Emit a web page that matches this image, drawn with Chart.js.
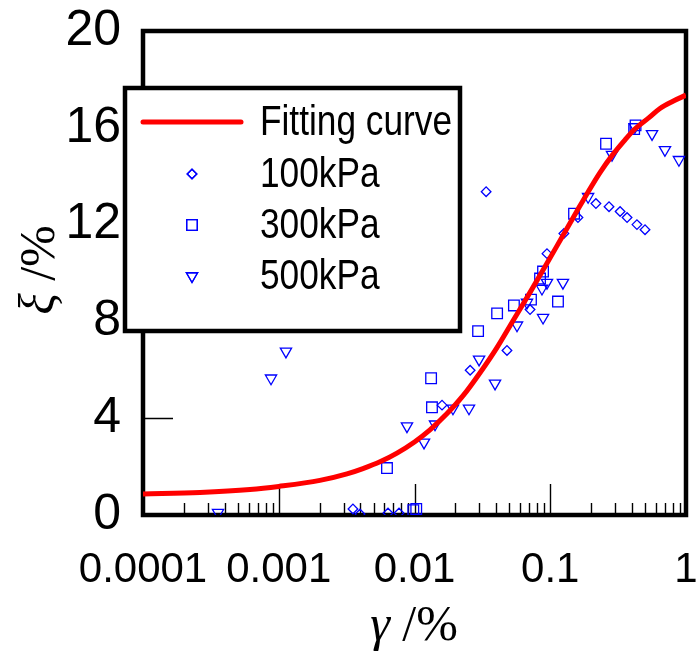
<!DOCTYPE html>
<html lang="en">
<head>
  <meta charset="UTF-8">
  <title>Damping ratio vs shear strain</title>
  <script src="https://cdn.jsdelivr.net/npm/chart.js"></script>
  <style>
    html, body { margin: 0; padding: 0; background: #fff; }
    .chart-box { width: 696px; height: 653px; position: relative; }
  </style>
</head>
<body>
  <div class="chart-box">
    <canvas id="dampingChart"></canvas>
  </div>

  <script>
    // fitting curve
    const fitStrain  = [0.0001, 0.000263, 0.000614, 0.001, 0.00201, 0.00318, 0.00417, 0.00557, 0.00743, 0.01, 0.013, 0.0173, 0.0228, 0.0304, 0.0406, 0.0532, 0.071, 0.0946, 0.124, 0.157, 0.19, 0.2325, 0.285, 0.349, 0.42, 0.534, 0.643, 0.801, 1];
    const fitDamping = [0.87, 0.93, 1.05, 1.18, 1.43, 1.7, 1.92, 2.2, 2.56, 3.02, 3.52, 4.18, 4.93, 5.88, 6.93, 8.03, 9.2, 10.4, 11.55, 12.55, 13.35, 14.15, 14.85, 15.45, 15.95, 16.42, 16.8, 17.1, 17.35];

    // test points
    const strain100  = [0.00352, 0.00397, 0.00638, 0.00769, 0.01595, 0.0257, 0.0337, 0.048, 0.071, 0.0946, 0.126, 0.16, 0.217, 0.271, 0.327, 0.368, 0.435, 0.499];
    const damping100 = [0.25, 0.04, 0.08, 0.08, 4.54, 5.98, 13.36, 6.8, 8.49, 10.8, 11.63, 12.29, 12.87, 12.74, 12.54, 12.29, 12.0, 11.79];

    const strain300  = [0.00627, 0.0098, 0.0103, 0.01325, 0.01345, 0.0294, 0.0406, 0.054, 0.0721, 0.0841, 0.0885, 0.114, 0.1497, 0.2576, 0.415, 0.425];
    const damping300 = [1.94, 0.2, 0.25, 5.65, 4.45, 7.6, 8.33, 8.66, 8.9, 9.77, 10.06, 8.82, 12.45, 15.34, 15.95, 16.1];

    const strain500  = [0.000357, 0.000877, 0.00113, 0.0088, 0.01175, 0.01416, 0.0192, 0.0252, 0.0299, 0.0392, 0.0569, 0.0674, 0.0869, 0.0885, 0.0946, 0.124, 0.19, 0.285, 0.42, 0.562, 0.7, 0.887];
    const damping500 = [0.1, 5.65, 6.76, 3.67, 3.0, 3.75, 4.41, 4.41, 6.43, 5.44, 7.84, 8.78, 9.36, 8.16, 9.6, 9.6, 13.15, 14.89, 16.04, 15.75, 15.09, 14.68];

    const seriesLabels = ["Fitting curve", "100kPa", "300kPa", "500kPa"];
    const xTickValues = [0.0001, 0.001, 0.01, 0.1, 1];
    const xTickLabels = ["0.0001", "0.001", "0.01", "0.1", "1"];
    const yTickValues = [0, 4, 8, 12, 16, 20];

    const toPoints = (xs, ys) => xs.map((x, i) => ({ x: x, y: ys[i] }));

    // is a narrow sans installed?
    const probe = document.createElement("canvas").getContext("2d");
    probe.font = "40px 'Liberation Sans Narrow', monospace";
    const wNarrow = probe.measureText("Fitting curve 0.0001").width;
    probe.font = "40px monospace";
    const wMono = probe.measureText("Fitting curve 0.0001").width;
    const hasNarrow = Math.abs(wNarrow - wMono) > 1;
    const narrowFamily = "'Liberation Sans Narrow', 'Arial Narrow', 'Liberation Sans', Arial, sans-serif";

    // frame + inward ticks, under the markers
    const framePlugin = {
      id: "frame",
      beforeDatasetsDraw(chart) {
        const { ctx, chartArea: a, scales } = chart;
        const xs = scales.x, ys = scales.y;
        ctx.save();
        ctx.strokeStyle = "#000";
        // minor ticks on the bottom axis
        ctx.lineWidth = 1.4;
        ctx.beginPath();
        for (let d = 0; d < xTickValues.length - 1; d++) {
          for (let k = 2; k <= 9; k++) {
            const px = Math.round(xs.getPixelForValue(xTickValues[d] * k)) + 0.5;
            ctx.moveTo(px, a.bottom);
            ctx.lineTo(px, a.bottom - 12);
          }
        }
        // major ticks
        for (let d = 1; d < xTickValues.length - 1; d++) {
          const px = Math.round(xs.getPixelForValue(xTickValues[d])) + 0.5;
          ctx.moveTo(px, a.bottom);
          ctx.lineTo(px, a.bottom - 31);
        }
        for (let i = 1; i < yTickValues.length - 1; i++) {
          const py = Math.round(ys.getPixelForValue(yTickValues[i])) + 0.5;
          ctx.moveTo(a.left, py);
          ctx.lineTo(a.left + 30, py);
        }
        ctx.stroke();
        ctx.lineWidth = 4.5;
        ctx.strokeRect(a.left, a.top, a.right - a.left, a.bottom - a.top);
        ctx.restore();
      }
    };

    function drawMarker(ctx, style, x, y, r, rot) {
      if (Chart.helpers && Chart.helpers.drawPoint) {
        Chart.helpers.drawPoint(ctx, { pointStyle: style, radius: r, rotation: rot, borderWidth: ctx.lineWidth }, x, y);
        ctx.stroke();
      }
    }

    // legend box and axis titles, on top
    const overlayPlugin = {
      id: "overlay",
      afterDraw(chart) {
        const { ctx } = chart;
        const box = { left: 125, top: 88, right: 460, bottom: 331 };
        ctx.save();
        ctx.fillStyle = "#fff";
        ctx.fillRect(box.left, box.top, box.right - box.left, box.bottom - box.top);
        ctx.strokeStyle = "#000";
        ctx.lineWidth = 4.5;
        ctx.strokeRect(box.left, box.top, box.right - box.left, box.bottom - box.top);

        const rows = [122, 174, 225, 276];
        chart.data.datasets.forEach((ds, i) => {
          const y = rows[i];
          if (ds.showLine) {
            ctx.strokeStyle = ds.borderColor;
            ctx.lineWidth = ds.borderWidth;
            ctx.lineCap = "round";
            ctx.beginPath();
            ctx.moveTo(143, y);
            ctx.lineTo(241, y);
            ctx.stroke();
          } else {
            ctx.strokeStyle = ds.borderColor;
            ctx.fillStyle = "rgba(0,0,0,0)";
            ctx.lineWidth = ds.borderWidth;
            drawMarker(ctx, ds.pointStyle, 192, y, ds.pointRadius, ds.rotation || 0);
          }
          ctx.fillStyle = "#000";
          ctx.textBaseline = "middle";
          ctx.textAlign = "left";
          ctx.save();
          if (hasNarrow) {
            ctx.font = "43px " + narrowFamily;
          } else {
            ctx.font = "43px 'Liberation Sans', Arial, sans-serif";
            ctx.translate(260, 0);
            ctx.scale(0.82, 1);
            ctx.translate(-260, 0);
          }
          ctx.fillText(ds.label, 260, y + 1);
          ctx.restore();
        });

        // axis titles: italic greek letter + upright "/%"
        function mixedTitle(greek, rest, cx, cy, angle) {
          ctx.save();
          ctx.translate(cx, cy);
          ctx.rotate(angle);
          ctx.fillStyle = "#000";
          ctx.textBaseline = "middle";
          ctx.textAlign = "left";
          const fItal = "italic 50px 'Liberation Serif', 'Times New Roman', serif";
          const fUp = "50px 'Liberation Serif', 'Times New Roman', serif";
          ctx.font = fItal;
          const w1 = ctx.measureText(greek + " ").width;
          ctx.font = fUp;
          const w2 = ctx.measureText(rest).width;
          const x0 = -(w1 + w2) / 2;
          ctx.font = fItal;
          ctx.fillText(greek, x0, 0);
          ctx.font = fUp;
          ctx.fillText(rest, x0 + w1, 0);
          ctx.restore();
        }
        mixedTitle("\u03B3", "/%", 414, 627, 0);
        mixedTitle("\u03BE", "/%", 41, 270, -Math.PI / 2);
        ctx.restore();
      }
    };

    const ctx = document.getElementById("dampingChart").getContext("2d");
    new Chart(ctx, {
      type: "scatter",
      data: {
        datasets: [
          {
            label: seriesLabels[0],
            data: toPoints(fitStrain, fitDamping),
            showLine: true,
            borderColor: "#ff0000",
            borderWidth: 5,
            pointRadius: 0,
            cubicInterpolationMode: "monotone",
            order: 0
          },
          {
            label: seriesLabels[1],
            data: toPoints(strain100, damping100),
            pointStyle: "rectRot",
            pointRadius: 4.8,
            borderColor: "#0000ff",
            backgroundColor: "rgba(0,0,0,0)",
            borderWidth: 1.3,
            order: 1
          },
          {
            label: seriesLabels[2],
            data: toPoints(strain300, damping300),
            pointStyle: "rect",
            pointRadius: 7.5,
            borderColor: "#0000ff",
            backgroundColor: "rgba(0,0,0,0)",
            borderWidth: 1.3,
            order: 2
          },
          {
            label: seriesLabels[3],
            data: toPoints(strain500, damping500),
            pointStyle: "triangle",
            rotation: 180,
            pointRadius: 6.5,
            borderColor: "#0000ff",
            backgroundColor: "rgba(0,0,0,0)",
            borderWidth: 1.3,
            order: 3
          }
        ]
      },
      options: {
        responsive: true,
        maintainAspectRatio: false,
        animation: false,
        layout: { padding: { top: 31, right: 10, left: 0, bottom: 0 } },
        plugins: {
          legend: { display: false },
          tooltip: { enabled: false }
        },
        scales: {
          x: {
            type: "logarithmic",
            min: xTickValues[0],
            max: xTickValues[xTickValues.length - 1],
            afterBuildTicks: s => { s.ticks = xTickValues.map(v => ({ value: v })); },
            afterFit: s => { s.height = 138; s.paddingLeft = 0; s.paddingRight = 0; },
            grid: { display: false, drawTicks: false },
            border: { display: false },
            ticks: {
              autoSkip: false,
              maxRotation: 0,
              padding: 30,
              color: "#000",
              font: { family: narrowFamily, size: hasNarrow ? 50 : 42 },
              callback: (v, i) => xTickLabels[i]
            }
          },
          y: {
            min: 0,
            max: 20,
            afterBuildTicks: s => { s.ticks = yTickValues.map(v => ({ value: v })); },
            afterFit: s => { s.width = 143; s.paddingTop = 0; s.paddingBottom = 0; },
            grid: { display: false, drawTicks: false },
            border: { display: false },
            ticks: {
              padding: 22,
              color: "#000",
              font: { family: "'Liberation Sans', Arial, sans-serif", size: 50 }
            }
          }
        }
      },
      plugins: [framePlugin, overlayPlugin]
    });
  </script>
</body>
</html>
